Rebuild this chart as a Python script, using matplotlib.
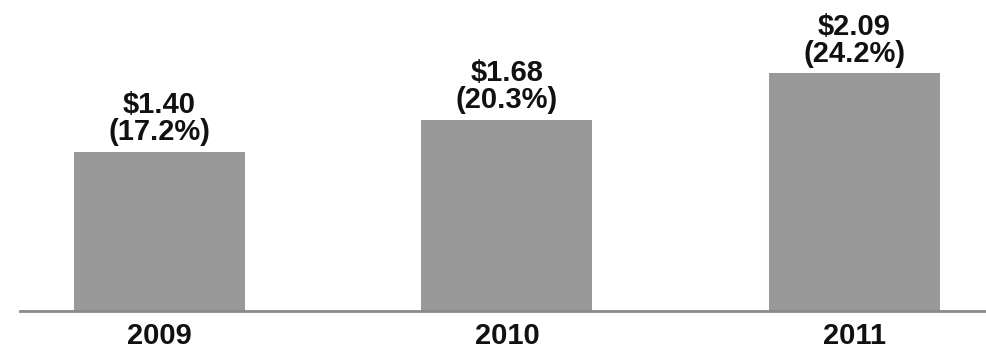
import matplotlib.pyplot as plt

years = ['2009', '2010', '2011']
values = [1.40, 1.68, 2.09]
shares = [17.2, 20.3, 24.2]

plt.rcParams['font.family'] = ['Liberation Sans', 'DejaVu Sans']

fig = plt.figure(figsize=(9.87, 3.5), dpi=100)
# axes from x=20px to right edge, baseline at y=311px
ax = fig.add_axes([20 / 987, 39 / 350, 967 / 987, 311 / 350])

x = list(range(len(years)))
bars = ax.bar(x, values, width=0.492, color='#999999', zorder=2)

for xi, v, s in zip(x, values, shares):
    ax.annotate(f'${v:.2f}\n({s:.1f}%)', (xi, v), xytext=(0, 4), textcoords='offset points',
                ha='center', va='bottom', fontsize=21, fontweight='bold', color='#111111',
                linespacing=0.95)

ax.set_xlim(-0.401, 2.381)
ax.set_ylim(0, 311 / 113.8)
ax.set_xticks(x)
ax.set_xticklabels(years, fontsize=21, fontweight='bold', color='#111111')
ax.tick_params(axis='x', length=0, pad=8)
ax.set_yticks([])
for side in ['top', 'right', 'left']:
    ax.spines[side].set_visible(False)
ax.spines['bottom'].set_color('#8a8a8a')
ax.spines['bottom'].set_linewidth(2)
ax.spines['bottom'].set_zorder(3)

fig.savefig('out.png', dpi=100)
